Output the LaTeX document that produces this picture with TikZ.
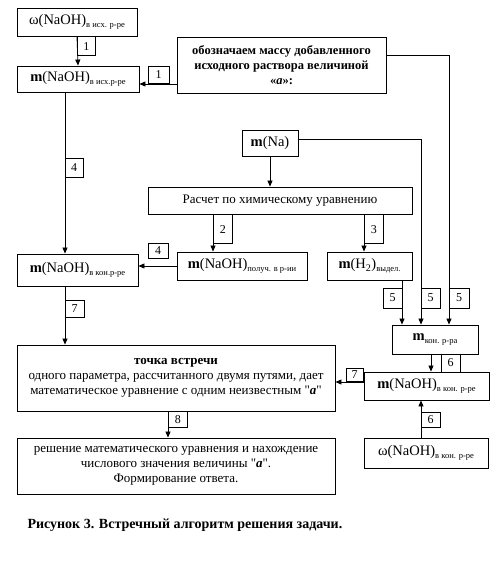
\documentclass[tikz,border=0pt]{standalone}
\usepackage{fontspec}
\setmainfont{Liberation Serif}
\usetikzlibrary{positioning,arrows.meta,calc}
\newcommand{\lowsub}[1]{\raisebox{-0.4ex}{\fontsize{8.5}{9}\selectfont #1}}

\begin{document}
\begin{tikzpicture}[x=1pt, y=-1pt,
  box/.style={draw, line width=0.9pt, align=center, inner sep=2pt, font=\fontsize{14.5}{16}\selectfont},
  txtbox/.style={box, font=\fontsize{13}{15}\selectfont},
  numbox/.style={draw, line width=0.7pt, inner sep=0pt, font=\fontsize{12}{12}\selectfont},
  arr/.style={-{Triangle[length=6pt,width=5pt]}, line width=0.8pt},
  link/.style={line width=0.8pt}]
  \useasboundingbox (0,0) rectangle (493,571);

  % Boxes
  \node[box, minimum width=120pt, minimum height=28pt] (w1) at (77,22) {ω(NaOH)\lowsub{в исх. р-ре}};
  \node[box, minimum width=122pt, minimum height=26pt] (mA) at (78,79) {\textbf{m}(NaOH)\lowsub{в исх.р-ре}};
  \node[txtbox, minimum width=209pt, minimum height=56pt, font=\bfseries\fontsize{12.5}{15}\selectfont] (big) at (281.5,65)
    {обозначаем массу добавленного\\ исходного раствора величиной\\ «\textit{a}»:};
  \node[box, minimum width=56pt, minimum height=26pt] (na) at (270,143) {\textbf{m}(Na)};
  \node[txtbox, minimum width=264pt, minimum height=27pt] (calc) at (280,200.5) {Расчет по химическому уравнению};
  \node[box, minimum width=130pt, minimum height=28pt] (mget) at (242,266) {\textbf{m}(NaOH)\lowsub{получ. в р-ии}};
  \node[box, minimum width=85pt, minimum height=28pt] (mh2) at (369.5,266) {\textbf{m}(H\textsubscript{2})\lowsub{выдел.}};
  \node[box, minimum width=121pt, minimum height=32pt] (mleft) at (77.5,270) {\textbf{m}(NaOH)\lowsub{в кон.р-ре}};
  \node[box, minimum width=86pt, minimum height=29pt] (mkon) at (435,339.5) {\textbf{m}\lowsub{кон. р-ра}};
  \node[box, minimum width=125pt, minimum height=28pt] (mright) at (426.5,386) {\textbf{m}(NaOH)\lowsub{в кон. р-ре}};
  \node[box, minimum width=124pt, minimum height=30pt] (wright) at (426,453) {ω(NaOH)\lowsub{в кон. р-ре}};
  \node[txtbox, minimum width=318pt, minimum height=66pt] (meet) at (176,378)
    {\textbf{точка встречи}\\ одного параметра, рассчитанного двумя путями, дает\\
     математическое уравнение с одним неизвестным \textquotedbl\textbf{\textit{a}}\textquotedbl};
  \node[txtbox, minimum width=318pt, minimum height=56pt] (sol) at (176,466)
    {решение математического уравнения и нахождение\\ числового значения величины \textquotedbl\textbf{\textit{a}}\textquotedbl.\\
     Формирование ответа.};
  \node[anchor=west, font=\bfseries\fontsize{14}{16}\selectfont] (cap) at (24,525)
    {Рисунок 3. Встречный алгоритм решения задачи.};

  % Connectors
  \draw[arr] (w1.south) -- (mA.north);
  \coordinate (bigout) at ($(big.west)+(0,19)$);
  \draw[arr] (bigout) -- (bigout -| mA.east);
  \coordinate (aout) at ($(mA.south)+(-13,0)$);
  \draw[arr] (aout) -- (aout |- mleft.north);
  \draw[arr] (na.south) -- (na.south |- calc.north);
  \coordinate (c2) at ($(mget.north)+(-29,0)$);
  \draw[arr] (c2 |- calc.south) -- (c2);
  \coordinate (c3) at ($(mh2.north)+(-5.5,0)$);
  \draw[arr] (c3 |- calc.south) -- (c3);
  \draw[arr] (mget.west) -- (mget.west -| mleft.east);
  \coordinate (h2out) at ($(mh2.south)+(32.5,0)$);
  \draw[arr] (h2out) -- (h2out |- mkon.north);
  \draw[arr] ($(na.east)+(0,-4)$) -| ($(mkon.north)+(-14,0)$);
  \draw[arr] ($(big.east)+(0,-10)$) -| ($(mkon.north)+(14,0)$);
  \coordinate (k6) at ($(mkon.south)+(-4,0)$);
  \draw[arr] (k6) -- (k6 |- mright.north);
  \coordinate (w6) at ($(wright.north)+(-5,0)$);
  \draw[arr] (w6) -- (w6 |- mright.south);
  \coordinate (r7) at ($(mright.west)+(0,-4)$);
  \draw[arr] (r7) -- (r7 -| meet.east);
  \coordinate (l7) at ($(mleft.south)+(-12.5,0)$);
  \draw[arr] (l7) -- (l7 |- meet.north);
  \coordinate (m8) at ($(meet.south)+(-8,0)$);
  \draw[arr] (m8) -- (m8 |- sol.north);

  % Step numbers
  \node[numbox, minimum width=18pt, minimum height=19pt, anchor=north west] (n1a) at (w1.south) {1};
  \node[numbox, minimum width=21pt, minimum height=17pt] (n1b) at (158.5,75) {1};
  \node[numbox, minimum width=18pt, minimum height=19pt] (n4a) at (74,167.5) {4};
  \node[numbox, minimum width=19pt, minimum height=29pt, anchor=north west] (n2) at (c2 |- calc.south) {2};
  \node[numbox, minimum width=20pt, minimum height=15pt] (n4b) at (158,250.5) {4};
  \node[numbox, minimum width=19pt, minimum height=29pt, anchor=north west] (n3) at (c3 |- calc.south) {3};
  \node[numbox, minimum width=19pt, minimum height=20pt] (n5a) at (392.5,298) {5};
  \node[numbox, minimum width=19pt, minimum height=20pt] (n5b) at (430.5,298) {5};
  \node[numbox, minimum width=20pt, minimum height=20pt] (n5c) at (459,298) {5};
  \node[numbox, minimum width=19pt, minimum height=18pt] (n6a) at (450.5,363) {6};
  \node[numbox, minimum width=17pt, minimum height=13pt] (n7a) at (354.5,375) {7};
  \node[numbox, minimum width=19pt, minimum height=15pt] (n6b) at (430.5,419.5) {6};
  \node[numbox, minimum width=19pt, minimum height=17pt] (n7b) at (74.5,308.5) {7};
  \node[numbox, minimum width=19pt, minimum height=16pt, anchor=north west] (n8) at (m8) {8};
\end{tikzpicture}
\end{document}
